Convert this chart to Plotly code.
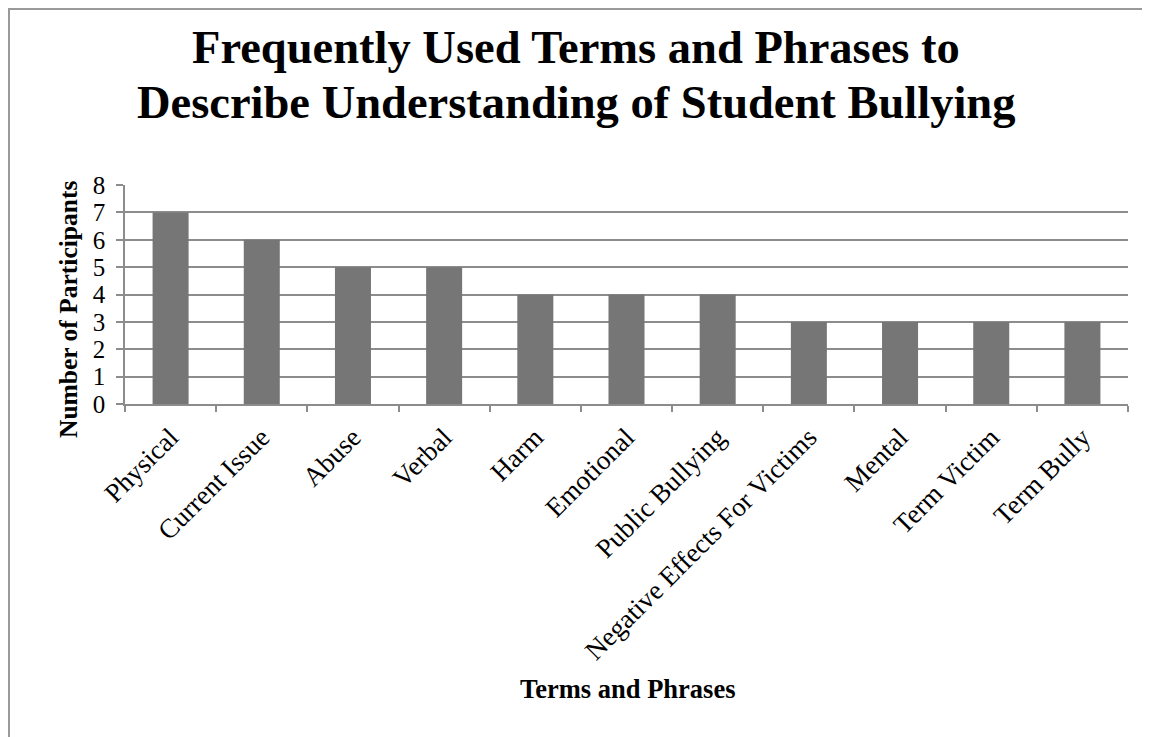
import plotly.graph_objects as go

categories = ["Physical", "Current Issue", "Abuse", "Verbal", "Harm", "Emotional",
              "Public Bullying", "Negative Effects For Victims", "Mental",
              "Term Victim", "Term Bully"]
participants = [7, 6, 5, 5, 4, 4, 4, 3, 3, 3, 3]
y_ticks = [0, 1, 2, 3, 4, 5, 6, 7, 8]

# the page body adds an 8px margin, so the figure is drawn 8px in
OFF = 8
W, H = 1150 - OFF, 737 - OFF
L, T = 125 - OFF, 185 - OFF
PR, PB = 1128 - OFF, 404 - OFF
R, B = W - PR, H - PB
pw, ph = PR - L, PB - T

FONT = "Liberation Serif, Times New Roman, serif"
GRID = "#8c8c8c"


def px_x(x):
    return (x - OFF - L) / pw


def px_y(y):
    return (PB - (y - OFF)) / ph


fig = go.Figure(go.Bar(
    x=categories, y=participants,
    marker=dict(color="#767676", line=dict(width=0)),
))

fig.update_layout(
    width=W, height=H,
    margin=dict(l=L, r=R, t=T, b=B, autoexpand=False),
    paper_bgcolor="white", plot_bgcolor="white",
    bargap=0.605,
    showlegend=False,
    font=dict(family=FONT, color="black"),
    xaxis=dict(
        type="category",
        tickangle=-45,
        tickfont=dict(size=27, family=FONT, color="black"),
        ticklabelstandoff=5,
        showgrid=False,
        showline=True, linecolor=GRID, linewidth=1.5,
        ticks="outside", tickson="boundaries", ticklen=6, tickcolor=GRID, tickwidth=1.5,
        automargin=False,
    ),
    yaxis=dict(
        range=[0, 8],
        tickvals=y_ticks,
        ticktext=[str(v) for v in y_ticks],
        tickfont=dict(size=25, family=FONT, color="black"),
        ticklabelstandoff=6,
        showgrid=True, gridcolor=GRID, gridwidth=1.5,
        zeroline=False,
        showline=True, linecolor=GRID, linewidth=1.5,
        ticks="outside", ticklen=7, tickcolor=GRID, tickwidth=1.5,
        automargin=False,
    ),
    annotations=[
        dict(text="<b>Frequently Used Terms and Phrases to</b>", xref="paper", yref="paper",
             x=px_x(576), y=px_y(47.5), xanchor="center", yanchor="middle",
             showarrow=False, font=dict(size=46.5, family=FONT, color="black")),
        dict(text="<b>Describe Understanding of Student Bullying</b>", xref="paper", yref="paper",
             x=px_x(576), y=px_y(102.5), xanchor="center", yanchor="middle",
             showarrow=False, font=dict(size=46.5, family=FONT, color="black")),
        dict(text="<b>Terms and Phrases</b>", xref="paper", yref="paper",
             x=px_x(627), y=px_y(689), xanchor="center", yanchor="middle",
             showarrow=False, font=dict(size=26.5, family=FONT, color="black")),
        dict(text="<b>Number of Participants</b>", xref="paper", yref="paper",
             x=px_x(68), y=px_y(310), xanchor="center", yanchor="middle",
             textangle=-90, showarrow=False,
             font=dict(size=25.5, family=FONT, color="black")),
    ],
    shapes=[
        dict(type="rect", xref="paper", yref="paper",
             x0=px_x(9), x1=px_x(1170), y0=px_y(760), y1=px_y(9),
             line=dict(color="#9a9a9a", width=2), fillcolor="rgba(0,0,0,0)", layer="below"),
    ],
)

fig.write_html("out.html")
